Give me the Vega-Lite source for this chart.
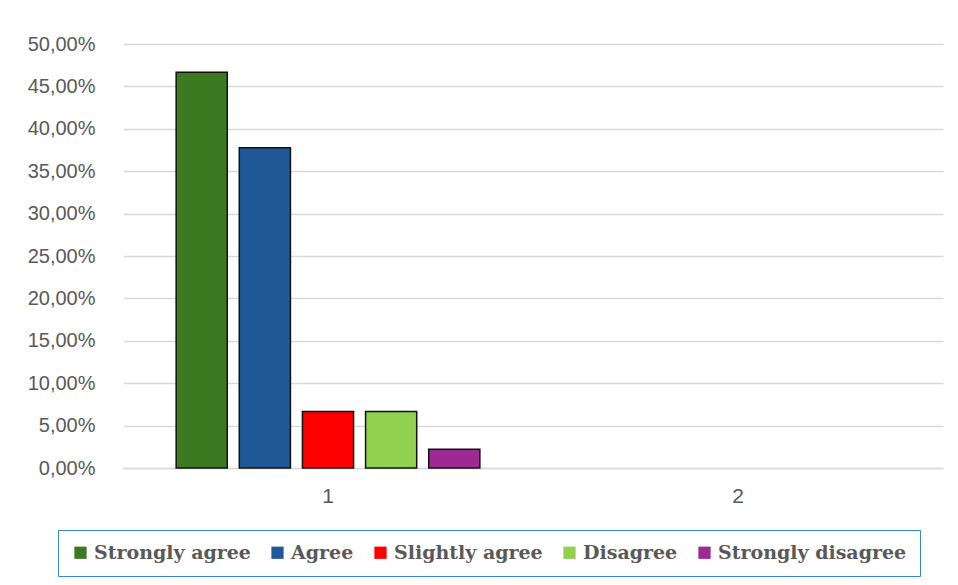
{
  "$schema": "https://vega.github.io/schema/vega-lite/v6.json",
  "autosize": "none",
  "width": 820,
  "height": 424,
  "padding": {"left": 123, "top": 44, "right": 15, "bottom": 117},
  "background": "white",
  "data": {
    "values": [
      {"cat": "1", "series": "Strongly agree", "value": 0.4667},
      {"cat": "1", "series": "Agree", "value": 0.3778},
      {"cat": "1", "series": "Slightly agree", "value": 0.0667},
      {"cat": "1", "series": "Disagree", "value": 0.0667},
      {"cat": "1", "series": "Strongly disagree", "value": 0.0222}
    ]
  },
  "mark": {"type": "bar", "stroke": "#111111", "strokeWidth": 1.5},
  "encoding": {
    "x": {
      "field": "cat", "type": "nominal",
      "scale": {"domain": ["1", "2"], "paddingInner": 0.23, "paddingOuter": 0.115},
      "axis": {
        "title": null, "labelAngle": 0, "ticks": false,
        "domainColor": "#d9d9d9", "domainWidth": 1.5,
        "labelColor": "#595959", "labelFontSize": 21,
        "labelFont": "Liberation Sans",
        "labelPadding": 17
      }
    },
    "xOffset": {
      "field": "series", "type": "nominal",
      "scale": {"domain": ["Strongly agree", "Agree", "Slightly agree", "Disagree", "Strongly disagree"], "paddingInner": 0.19, "paddingOuter": 0.095}
    },
    "y": {
      "field": "value", "type": "quantitative",
      "scale": {"domain": [0, 0.5], "nice": false},
      "axis": {
        "title": null, "format": ".2%", "values": [0, 0.05, 0.1, 0.15, 0.2, 0.25, 0.3, 0.35, 0.4, 0.45, 0.5],
        "domain": false, "ticks": false, "gridColor": "#d9d9d9", "gridWidth": 1.5,
        "labelColor": "#595959", "labelFontSize": 20,
        "labelFont": "Liberation Sans",
        "labelPadding": 28
      }
    },
    "color": {
      "field": "series", "type": "nominal",
      "scale": {
        "domain": ["Strongly agree", "Agree", "Slightly agree", "Disagree", "Strongly disagree"],
        "range": ["#3c7a22", "#1f5897", "#ff0000", "#92d050", "#9c2a92"]
      },
      "legend": {
        "title": null, "orient": "none", "direction": "horizontal",
        "legendX": -65, "legendY": 486,
        "symbolType": "square", "symbolSize": 150, "symbolStrokeWidth": 0,
        "labelFont": "DejaVu Serif", "labelFontWeight": "bold", "labelFontSize": 19,
        "labelColor": "#595959", "labelOffset": 4, "columnPadding": 17,
        "padding": 13, "strokeColor": "#3a87d6",
        "labelLimit": 400,
        "encode": {"legend": {"update": {"strokeWidth": {"value": 2}}}}
      }
    }
  },
  "config": {
    "view": {"stroke": null},
    "locale": {"number": {"decimal": ",", "thousands": ".", "grouping": [3], "currency": ["", " €"]}}
  }
}
